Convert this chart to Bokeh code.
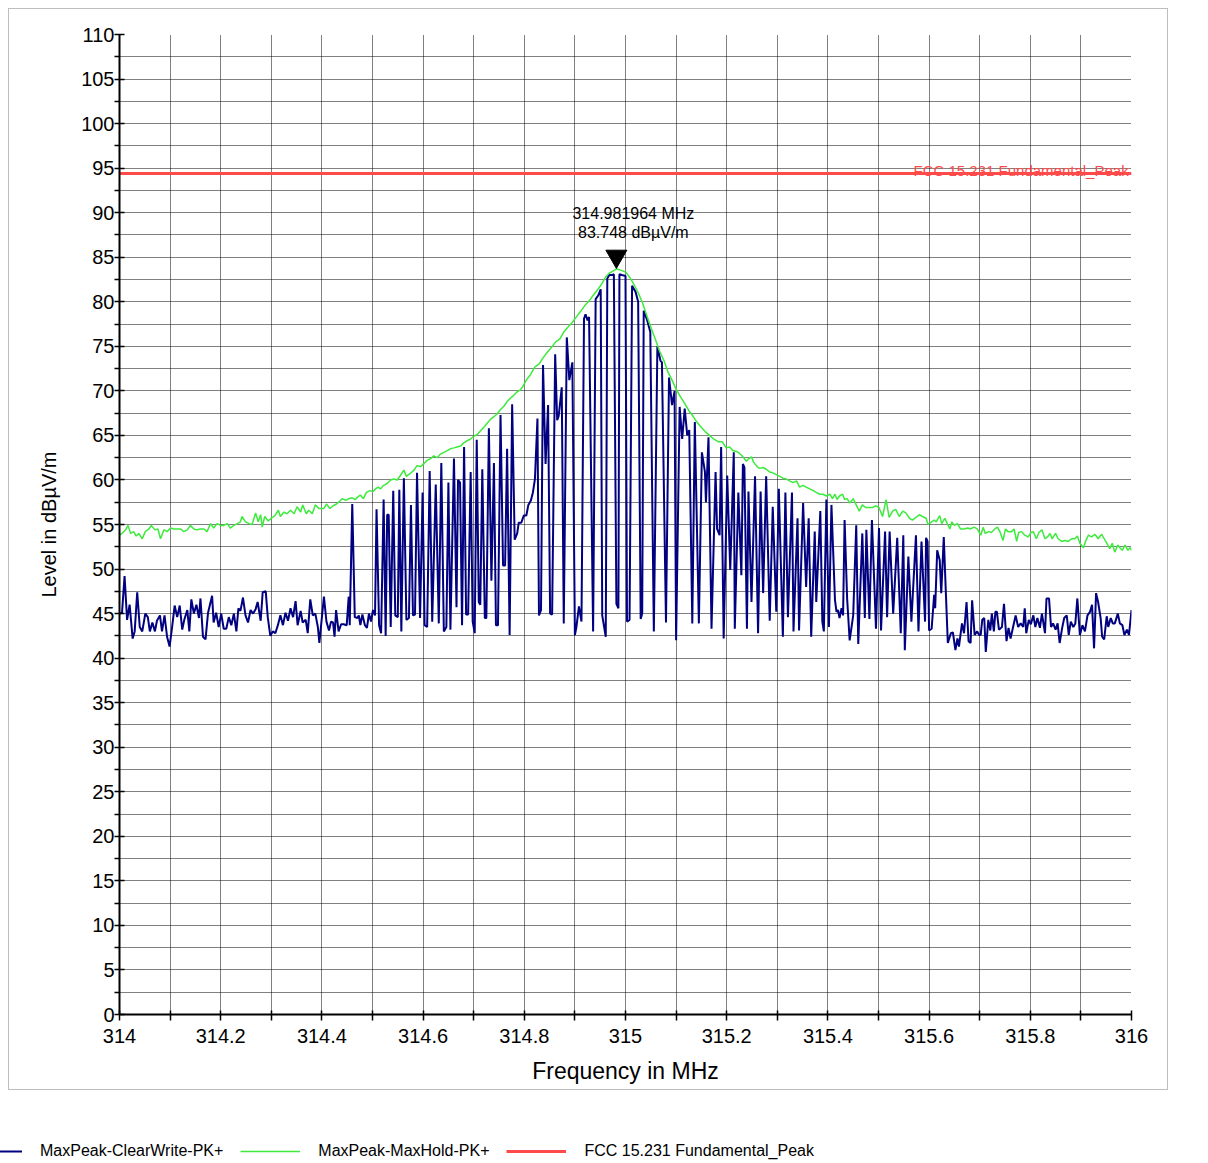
import math
from bokeh.plotting import figure
from bokeh.layouts import column
from bokeh.models import (Range1d, FixedTicker, Label, Legend, LegendItem)
from bokeh.embed import file_html
from bokeh.resources import INLINE

# ---------------- data ----------------
# MaxPeak-ClearWrite-PK+ (blue), in segments
cw_freq_a = [314.000, 314.005, 314.010, 314.015, 314.020, 314.026, 314.030, 314.035, 314.040, 314.045,
             314.051, 314.056, 314.060, 314.065, 314.070, 314.074, 314.080, 314.084, 314.089, 314.094,
             314.099, 314.104, 314.109, 314.114, 314.119, 314.124, 314.128, 314.134, 314.138, 314.142,
             314.147, 314.152, 314.157, 314.160, 314.165, 314.170, 314.175, 314.183, 314.186, 314.191,
             314.196, 314.201, 314.206, 314.211, 314.216, 314.221, 314.226, 314.231, 314.235, 314.239,
             314.244, 314.249, 314.254, 314.259, 314.264, 314.269, 314.273, 314.279, 314.283, 314.289,
             314.293, 314.298, 314.303, 314.308, 314.313, 314.318, 314.323, 314.328, 314.333, 314.338,
             314.343, 314.348, 314.352, 314.358, 314.362, 314.368, 314.372, 314.377, 314.382, 314.387,
             314.392, 314.395]
cw_level_a = [45.0, 45.1, 49.2, 44.3, 46.0, 42.2, 43.0, 47.4, 43.5, 43.0,
              45.0, 44.6, 43.0, 44.0, 43.0, 44.2, 44.8, 43.0, 44.8, 42.4,
              41.3, 43.5, 45.9, 44.6, 45.9, 43.2, 44.3, 45.4, 43.0, 46.6,
              45.0, 46.0, 44.5, 46.7, 42.4, 42.1, 45.1, 47.0, 44.0, 45.1,
              43.5, 45.0, 43.3, 43.3, 44.6, 43.7, 45.0, 43.0, 45.6, 45.3,
              46.8, 44.8, 44.0, 45.4, 45.0, 45.5, 46.3, 44.2, 47.4, 47.5,
              44.6, 42.5, 43.0, 42.8, 43.7, 44.8, 43.7, 45.1, 44.2, 45.6,
              44.6, 46.4, 43.7, 45.3, 44.0, 44.3, 42.8, 46.6, 44.8, 45.0,
              43.5, 41.7]

cw_freq_b = [314.404, 314.409, 314.414, 314.418, 314.422, 314.425, 314.428, 314.433, 314.438, 314.443,
             314.449, 314.453, 314.455, 314.460, 314.465, 314.470, 314.473, 314.476, 314.480, 314.485,
             314.489, 314.493, 314.497, 314.501, 314.505, 314.508, 314.513, 314.517, 314.522, 314.526,
             314.529, 314.532, 314.536, 314.541, 314.545, 314.550, 314.553, 314.557, 314.562, 314.567,
             314.572, 314.576, 314.580, 314.584, 314.588, 314.594, 314.599, 314.603, 314.608, 314.613,
             314.618, 314.625, 314.631, 314.636, 314.641, 314.646, 314.650, 314.654, 314.661, 314.666,
             314.669, 314.673, 314.677, 314.681, 314.685, 314.689, 314.694, 314.698, 314.702, 314.706,
             314.710, 314.713, 314.717, 314.722, 314.725, 314.730, 314.735, 314.740, 314.744, 314.748,
             314.753, 314.758, 314.762, 314.766, 314.771, 314.776, 314.781, 314.786, 314.789, 314.794]
cw_level_b = [46.9, 44.1, 43.1, 44.1, 44.0, 42.4, 45.4, 43.0, 43.8, 43.8,
              43.7, 46.9, 43.7, 57.3, 44.6, 44.5, 44.8, 43.7, 44.9, 43.7,
              43.4, 45.0, 44.1, 45.4, 44.8, 56.7, 43.7, 42.8, 57.8, 42.5,
              56.1, 56.1, 43.5, 58.8, 44.8, 44.6, 58.9, 43.0, 60.2, 44.3,
              44.5, 57.2, 44.8, 44.9, 60.8, 44.5, 58.6, 43.7, 43.5, 61.0,
              44.1, 59.5, 43.9, 61.9, 43.0, 43.5, 59.7, 43.2, 62.4, 45.7,
              60.0, 59.7, 43.7, 63.7, 44.9, 44.9, 60.9, 44.1, 42.8, 64.5,
              46.3, 46.0, 61.2, 44.5, 44.5, 65.8, 48.7, 61.9, 43.7, 43.7,
              67.3, 50.4, 50.4, 63.5, 42.6, 68.5, 53.3, 54.0, 55.2, 55.2]

cw_freq_c = [314.799, 314.804, 314.808, 314.813, 314.817, 314.821, 314.826, 314.829, 314.833, 314.837,
             314.842, 314.847, 314.851, 314.855, 314.861, 314.865, 314.868, 314.874, 314.878, 314.884,
             314.889, 314.895, 314.900, 314.903, 314.908, 314.913, 314.918, 314.921, 314.925, 314.928,
             314.936, 314.941, 314.946, 314.951, 314.954, 314.961, 314.964, 314.968, 314.974, 314.977,
             314.982, 314.986, 314.988, 314.993, 315.000, 315.003, 315.008, 315.013, 315.020, 315.025,
             315.030, 315.033, 315.036, 315.043, 315.049, 315.056, 315.063, 315.069, 315.072, 315.080,
             315.086, 315.092, 315.097, 315.100, 315.107, 315.112, 315.117, 315.122, 315.126, 315.132,
             315.137, 315.145, 315.151, 315.157, 315.159, 315.164, 315.170, 315.178, 315.181, 315.186,
             315.189, 315.194, 315.201, 315.207]
cw_level_c = [56.0, 56.0, 57.2, 57.7, 58.6, 60.1, 66.9, 44.8, 45.4, 72.9,
              61.8, 68.4, 45.0, 44.9, 74.1, 66.7, 67.2, 70.4, 43.9, 76.0,
              71.2, 73.2, 42.6, 43.5, 45.8, 44.1, 78.1, 78.6, 77.9, 78.3,
              43.0, 80.3, 80.7, 81.4, 44.8, 42.4, 82.6, 83.0, 83.0, 83.1,
              46.1, 45.6, 83.1, 83.0, 82.9, 44.1, 44.3, 81.8, 81.1, 80.0,
              44.4, 45.0, 79.0, 77.9, 76.6, 43.0, 75.0, 73.4, 73.2, 44.0,
              71.5, 68.4, 70.0, 42.0, 68.2, 64.6, 68.0, 65.0, 65.6, 43.9,
              66.5, 43.9, 63.1, 60.9, 57.5, 64.8, 43.3, 60.9, 54.5, 53.8,
              63.7, 42.2, 60.5, 49.9]

cw_freq_d = [315.214, 315.216, 315.223, 315.229, 315.232, 315.235, 315.240, 315.243, 315.249, 315.256,
             315.262, 315.267, 315.272, 315.278, 315.285, 315.291, 315.298, 315.303, 315.311, 315.316,
             315.321, 315.329, 315.332, 315.340, 315.343, 315.351, 315.357, 315.362, 315.367, 315.374,
             315.377, 315.385, 315.389, 315.392, 315.397, 315.402, 315.407, 315.414, 315.417, 315.420,
             315.423, 315.427, 315.430, 315.433, 315.438, 315.443, 315.450, 315.456, 315.460, 315.468,
             315.473, 315.476, 315.482, 315.487, 315.495, 315.501, 315.505, 315.513, 315.517, 315.522,
             315.529, 315.537, 315.544, 315.549, 315.552, 315.559, 315.565, 315.574, 315.579, 315.585,
             315.592, 315.594, 315.597, 315.600, 315.605]
cw_level_d = [63.1, 43.3, 58.6, 49.3, 61.8, 61.4, 43.3, 58.7, 46.3, 60.4,
              42.8, 58.7, 47.3, 60.4, 44.2, 57.0, 45.2, 59.0, 42.4, 58.6,
              44.6, 58.6, 43.0, 55.7, 43.1, 57.4, 48.0, 55.7, 42.4, 54.2,
              46.3, 56.5, 44.1, 43.0, 57.8, 43.5, 57.2, 46.5, 45.2, 45.4,
              44.5, 45.6, 44.8, 55.5, 46.7, 42.0, 44.8, 54.9, 41.6, 54.0,
              44.5, 54.4, 44.4, 55.5, 43.3, 54.6, 43.1, 54.2, 44.6, 54.2,
              45.0, 53.5, 42.8, 53.8, 40.9, 51.4, 44.1, 53.8, 43.0, 53.1,
              44.1, 53.5, 53.1, 43.1, 43.3]

cw_freq_e = [315.610, 315.612, 315.616, 315.621, 315.624, 315.629, 315.633, 315.637, 315.643, 315.647,
             315.652, 315.656, 315.659, 315.665, 315.669, 315.674, 315.678, 315.682, 315.685, 315.690,
             315.695, 315.699, 315.702, 315.705, 315.709, 315.712, 315.717, 315.721, 315.724, 315.728,
             315.731, 315.734, 315.738, 315.744, 315.748, 315.753, 315.757, 315.761, 315.766, 315.771,
             315.776, 315.781, 315.786, 315.789, 315.792, 315.797, 315.801, 315.806, 315.810, 315.814,
             315.819, 315.823, 315.829, 315.832, 315.837, 315.841, 315.845, 315.850, 315.854, 315.858,
             315.863, 315.867, 315.872, 315.876, 315.880, 315.885, 315.889, 315.893, 315.898, 315.903,
             315.908, 315.913, 315.918, 315.922, 315.926, 315.930, 315.934, 315.939, 315.942, 315.946,
             315.951, 315.954, 315.959, 315.963, 315.967, 315.973, 315.977, 315.982, 315.986, 315.991,
             315.995, 316.000]
cw_level_e = [47.1, 45.6, 52.1, 51.0, 47.3, 53.6, 47.5, 41.7, 42.8, 42.9,
              40.9, 42.2, 41.3, 43.9, 42.8, 46.3, 41.9, 41.7, 46.5, 42.6,
              43.0, 42.6, 42.6, 44.3, 44.5, 40.7, 44.3, 43.1, 45.0, 43.0,
              45.2, 45.2, 43.2, 43.5, 46.1, 41.9, 43.4, 42.2, 43.5, 44.8,
              43.5, 43.9, 43.5, 45.6, 42.8, 44.3, 43.8, 44.8, 43.5, 44.5,
              43.4, 45.0, 42.8, 46.7, 46.7, 43.5, 43.9, 43.2, 43.9, 41.7,
              43.4, 44.5, 44.8, 42.6, 44.1, 43.5, 43.9, 46.7, 42.6, 43.7,
              43.0, 44.8, 45.2, 46.0, 41.1, 47.3, 46.3, 44.5, 42.4, 42.1,
              44.7, 43.5, 44.5, 43.9, 43.9, 45.0, 43.9, 43.7, 42.6, 43.2,
              42.6, 45.4]

# MaxPeak-MaxHold-PK+ (green)
mh_freq_a = [314.000, 314.005, 314.012, 314.017, 314.022, 314.028, 314.033, 314.038, 314.045, 314.051,
             314.058, 314.063, 314.070, 314.076, 314.081, 314.088, 314.094, 314.101, 314.107, 314.114,
             314.121, 314.127, 314.134, 314.140, 314.147, 314.153, 314.160, 314.167, 314.173, 314.180,
             314.186, 314.193, 314.200, 314.206, 314.213, 314.219, 314.226, 314.233, 314.239, 314.242,
             314.249, 314.256, 314.262, 314.269, 314.274, 314.279, 314.282, 314.287, 314.294, 314.300,
             314.307, 314.314, 314.318, 314.325, 314.331, 314.338, 314.345, 314.351, 314.358, 314.362,
             314.369, 314.374, 314.381, 314.387, 314.394]
mh_level_a = [53.8, 54.0, 54.4, 54.9, 54.0, 54.2, 53.7, 54.0, 53.4, 54.2,
              54.5, 54.9, 54.4, 54.5, 53.4, 54.4, 54.2, 54.6, 54.5, 54.5,
              54.5, 54.2, 54.4, 54.9, 54.5, 54.4, 54.5, 54.5, 54.2, 55.1,
              54.6, 55.1, 54.9, 54.9, 55.1, 54.6, 54.9, 55.1, 55.3, 55.9,
              55.3, 55.1, 55.0, 56.3, 55.3, 56.1, 54.7, 55.9, 55.4, 55.7,
              56.0, 56.6, 55.9, 56.4, 56.2, 56.6, 56.2, 57.0, 56.4, 57.2,
              56.2, 56.6, 56.2, 57.2, 56.8]

mh_freq_b = [314.404, 314.409, 314.416, 314.422, 314.429, 314.435, 314.440, 314.447, 314.453, 314.460,
             314.466, 314.471, 314.476, 314.482, 314.488, 314.495, 314.501, 314.506, 314.511, 314.516,
             314.522, 314.529, 314.536, 314.542, 314.549, 314.555, 314.562, 314.567, 314.574, 314.582,
             314.588, 314.595, 314.601, 314.608, 314.615, 314.621, 314.628, 314.634, 314.641, 314.648,
             314.654, 314.661, 314.667, 314.674, 314.681, 314.687, 314.694, 314.700, 314.707, 314.713,
             314.720, 314.727, 314.733, 314.740, 314.746, 314.753, 314.760, 314.766, 314.773, 314.779,
             314.786, 314.792]
mh_level_b = [56.8, 57.3, 56.8, 57.1, 57.3, 57.6, 57.9, 57.7, 57.9, 58.0,
              57.8, 58.1, 58.3, 57.9, 58.6, 58.8, 58.7, 59.0, 59.2, 59.0,
              59.4, 59.6, 60.0, 60.1, 60.0, 60.5, 61.1, 60.4, 60.7, 61.1,
              61.6, 61.5, 61.8, 62.2, 62.4, 62.7, 62.5, 62.9, 63.1, 63.3,
              63.5, 63.6, 63.7, 63.8, 64.2, 64.4, 64.6, 64.9, 65.1, 65.5,
              65.9, 66.4, 66.8, 67.1, 67.4, 67.9, 68.3, 68.8, 69.2, 69.5,
              69.9, 70.1]

mh_freq_c = [314.796, 314.804, 314.813, 314.821, 314.829, 314.837, 314.845, 314.854, 314.862, 314.870,
             314.878, 314.887, 314.895, 314.903, 314.911, 314.920, 314.928, 314.936, 314.944, 314.953,
             314.961, 314.968, 314.977, 314.982, 314.993, 315.001, 315.010, 315.018, 315.026, 315.034,
             315.043, 315.051, 315.059, 315.067, 315.076, 315.084, 315.092, 315.100, 315.109, 315.117,
             315.125, 315.133, 315.141, 315.150, 315.158, 315.166, 315.174, 315.183, 315.191]
mh_level_c = [70.4, 71.2, 71.9, 72.7, 73.0, 73.7, 74.3, 74.9, 75.5, 75.8,
              76.6, 77.2, 77.7, 78.3, 78.9, 79.6, 80.1, 80.7, 81.3, 82.0,
              82.8, 83.2, 83.5, 83.7, 83.5, 83.3, 82.6, 81.8, 80.9, 79.8,
              78.3, 77.0, 75.8, 74.5, 73.4, 72.1, 71.2, 70.2, 69.3, 68.6,
              67.8, 67.2, 66.5, 65.9, 65.4, 65.0, 64.6, 64.3, 64.3]

mh_freq_d = [315.199, 315.206, 315.212, 315.219, 315.225, 315.232, 315.239, 315.242, 315.249, 315.253,
             315.260, 315.265, 315.272, 315.278, 315.285, 315.291, 315.298, 315.305, 315.311, 315.318,
             315.324, 315.331, 315.338, 315.344, 315.351, 315.357, 315.364, 315.371, 315.377, 315.384,
             315.390, 315.397, 315.404, 315.409, 315.414, 315.418, 315.423, 315.429, 315.433, 315.438,
             315.443, 315.450, 315.456, 315.462, 315.468, 315.475, 315.482, 315.488, 315.495, 315.501,
             315.508, 315.515, 315.521, 315.528, 315.534, 315.541, 315.548, 315.554, 315.561, 315.567,
             315.574, 315.581, 315.587, 315.594, 315.598]
mh_level_d = [63.6, 63.7, 63.3, 63.2, 63.0, 62.6, 62.1, 62.3, 62.6, 62.0,
              61.5, 61.3, 61.4, 61.2, 60.9, 60.8, 60.6, 60.4, 60.2, 60.1,
              59.9, 59.7, 59.9, 59.2, 59.4, 59.2, 59.0, 58.8, 58.6, 58.4,
              58.4, 58.2, 58.4, 57.9, 58.4, 57.8, 58.2, 58.4, 57.8, 57.9,
              57.4, 57.9, 57.2, 56.5, 57.2, 56.9, 56.9, 56.9, 57.1, 56.9,
              55.9, 57.8, 55.8, 56.5, 56.7, 55.9, 56.5, 56.3, 55.7, 55.5,
              55.8, 56.1, 55.9, 55.7, 55.0]

mh_freq_e = [315.610, 315.614, 315.621, 315.625, 315.631, 315.636, 315.641, 315.645, 315.650, 315.656,
             315.662, 315.669, 315.676, 315.682, 315.689, 315.695, 315.702, 315.707, 315.711, 315.718,
             315.723, 315.730, 315.735, 315.740, 315.746, 315.751, 315.756, 315.763, 315.768, 315.773,
             315.777, 315.783, 315.789, 315.796, 315.801, 315.806, 315.812, 315.817, 315.823, 315.829,
             315.834, 315.839, 315.843, 315.850, 315.855, 315.862, 315.868, 315.875, 315.882, 315.888,
             315.893, 315.898, 315.905, 315.909, 315.915, 315.921, 315.928, 315.934, 315.941, 315.946,
             315.951, 315.957, 315.962, 315.967, 315.973, 315.977, 315.982, 315.987, 315.993, 315.997,
             316.000]
mh_level_e = [55.5, 55.3, 56.0, 55.1, 55.7, 55.1, 54.5, 55.3, 54.9, 55.1,
              54.5, 54.5, 54.6, 54.5, 54.7, 54.5, 53.8, 54.7, 54.0, 54.2,
              54.1, 54.5, 54.7, 54.2, 53.2, 54.5, 54.2, 54.2, 54.5, 53.1,
              54.1, 54.2, 53.8, 53.6, 54.1, 54.2, 53.4, 54.1, 54.4, 53.4,
              53.6, 54.0, 53.4, 54.0, 53.4, 53.1, 53.2, 53.1, 53.4, 53.4,
              53.7, 52.9, 52.4, 53.1, 53.8, 53.6, 53.9, 53.4, 53.9, 53.4,
              52.9, 52.3, 52.9, 51.9, 52.7, 52.4, 52.1, 52.7, 52.1, 52.4,
              52.1]

# FCC 15.231 Fundamental_Peak limit (red)
lim_freq = [314.0, 316.0]
lim_level = [94.4, 94.4]

# marker
peak_freq = 314.981964
peak_level = 83.748

# series names
series_names = ["MaxPeak-ClearWrite-PK+", "MaxPeak-MaxHold-PK+", "FCC 15.231 Fundamental_Peak"]
series_colors = ["#000080", "#3DEB3D", "#FF4A4A"]
series_widths = [2, 1.5, 3]

# ticks
x_ticks = [314.0, 314.2, 314.4, 314.6, 314.8, 315.0, 315.2, 315.4, 315.6, 315.8, 316.0]
x_tick_labels = ["314", "314.2", "314.4", "314.6", "314.8", "315", "315.2", "315.4", "315.6", "315.8", "316"]
x_minor = [314.1, 314.3, 314.5, 314.7, 314.9, 315.1, 315.3, 315.5, 315.7, 315.9]
y_ticks = [0, 5, 10, 15, 20, 25, 30, 35, 40, 45, 50, 55, 60, 65, 70, 75, 80, 85, 90, 95, 100, 105, 110]
y_minor = [2.5, 7.5, 12.5, 17.5, 22.5, 27.5, 32.5, 37.5, 42.5, 47.5, 52.5, 57.5, 62.5, 67.5, 72.5,
           77.5, 82.5, 87.5, 92.5, 97.5, 102.5, 107.5]

cw_freq = cw_freq_a + cw_freq_b + cw_freq_c + cw_freq_d + cw_freq_e
cw_level = cw_level_a + cw_level_b + cw_level_c + cw_level_d + cw_level_e
mh_freq = mh_freq_a + mh_freq_b + mh_freq_c + mh_freq_d + mh_freq_e
mh_level = mh_level_a + mh_level_b + mh_level_c + mh_level_d + mh_level_e

# ---------------- main chart (inside a light grey box) ----------------
FONT = "Liberation Sans"
W, H = 1158, 1080          # canvas; page position 9..1167 x 9..1089
ML, MR, MT, MB = 110, 36, 25, 75   # frame: 1012 x 980 px

p = figure(width=W, height=H, x_range=Range1d(x_ticks[0], x_ticks[-1]),
           y_range=Range1d(y_ticks[0], y_ticks[-1]),
           output_backend="svg", toolbar_location=None,
           min_border_left=ML, min_border_right=MR, min_border_top=MT, min_border_bottom=MB,
           x_axis_label="Frequency in MHz", y_axis_label="Level in dB\u00b5V/m",
           margin=(9, 0, 0, 9), styles={"outline": "1px solid #BDBDBD"})
p.outline_line_color = None
p.background_fill_color = "white"
p.border_fill_color = "white"

xt = FixedTicker(ticks=x_ticks, minor_ticks=x_minor)
yt = FixedTicker(ticks=y_ticks, minor_ticks=y_minor)
p.xaxis.ticker = xt
p.yaxis.ticker = yt
p.xgrid.ticker = xt
p.ygrid.ticker = yt
p.xaxis.major_label_overrides = dict(zip(x_ticks, x_tick_labels))

for g in (p.xgrid, p.ygrid):
    g.grid_line_color = "black"
    g.grid_line_dash = "1 1"
    g.grid_line_width = 1
    g.minor_grid_line_color = "black"
    g.minor_grid_line_dash = "1 1"
    g.minor_grid_line_width = 1

for ax in (p.xaxis, p.yaxis):
    ax.axis_line_color = "black"
    ax.axis_line_width = 2
    ax.major_tick_line_color = "black"
    ax.minor_tick_line_color = "black"
    ax.major_tick_line_width = 1.5
    ax.minor_tick_line_width = 1.5
    ax.major_label_text_font = FONT
    ax.major_label_text_font_size = "20px"
    ax.major_label_text_color = "black"
    ax.axis_label_text_font = FONT
    ax.axis_label_text_font_style = "normal"
    ax.axis_label_text_color = "black"

p.xaxis.major_tick_in = 4
p.xaxis.major_tick_out = 6
p.xaxis.minor_tick_in = 4
p.xaxis.minor_tick_out = 6
p.xaxis.major_label_standoff = 8
p.xaxis.axis_label_standoff = 12
p.xaxis.axis_label_text_font_size = "23px"

p.yaxis.major_tick_in = 5
p.yaxis.major_tick_out = 5
p.yaxis.minor_tick_in = 0
p.yaxis.minor_tick_out = 5
p.yaxis.major_label_standoff = 0
p.yaxis.axis_label_standoff = 18
p.yaxis.axis_label_text_font_size = "20px"

# series
r_cw = p.line(cw_freq, cw_level, line_color=series_colors[0], line_width=series_widths[0])
r_mh = p.line(mh_freq, mh_level, line_color=series_colors[1], line_width=series_widths[1])
r_lim = p.line(lim_freq, lim_level, line_color=series_colors[2], line_width=series_widths[2])

# marker triangle (tip at the peak)
frame_h = H - MT - MB
px_per_unit = frame_h / (y_ticks[-1] - y_ticks[0])
tri_size = 21
tri_tip_px = (tri_size / 2) * math.sqrt(3) * 2 / 3
p.scatter([peak_freq], [peak_level + tri_tip_px / px_per_unit], marker="inverted_triangle",
          size=tri_size, fill_color="black", line_color="black")

p.add_layout(Label(x=peak_freq, y=peak_level, x_offset=17, y_offset=55,
                   text=f"{peak_freq:.6f} MHz", text_align="center", text_baseline="middle",
                   text_font=FONT, text_font_size="16px", text_color="black"))
p.add_layout(Label(x=peak_freq, y=peak_level, x_offset=17, y_offset=36,
                   text=f"{peak_level:.3f} dB\u00b5V/m", text_align="center", text_baseline="middle",
                   text_font=FONT, text_font_size="16px", text_color="black"))

# limit line label (kept inside the plotting area)
p.add_layout(Label(x=lim_freq[-1], y=lim_level[-1], x_offset=-218, y_offset=3,
                   text=series_names[2], text_align="left", text_baseline="alphabetic",
                   text_font=FONT, text_font_size="15px", text_color=series_colors[2]))

# ---------------- legend strip below the box ----------------
LW, LH = 1200, 72
leg = figure(width=LW, height=LH, output_backend="svg", toolbar_location=None,
             x_axis_type=None, y_axis_type=None, min_border=0)
try:
    leg.frame_align = False
except Exception:
    pass
leg.outline_line_color = None
leg.grid.visible = False
leg.background_fill_alpha = 0
leg.border_fill_alpha = 0
# one-point proxies (a one-point line draws nothing) that carry each series' legend style
first_pts = [(cw_freq[0], cw_level[0]), (mh_freq[0], mh_level[0]), (lim_freq[0], lim_level[0])]
proxies = [leg.line([fx], [fy], line_color=c, line_width=w)
           for (fx, fy), c, w in zip(first_pts, series_colors, series_widths)]
legend = Legend(items=[LegendItem(label=n, renderers=[r]) for n, r in zip(series_names, proxies)],
                orientation="horizontal", location=(-38, 0),
                glyph_width=60, glyph_height=20, label_standoff=18, spacing=17,
                padding=0, margin=0, border_line_color=None, background_fill_alpha=0,
                label_text_font=FONT, label_text_font_size="16px", label_text_color="black")
leg.add_layout(legend)

layout = column(p, leg, spacing=0)
open("out.html", "w").write(file_html(layout, INLINE))
